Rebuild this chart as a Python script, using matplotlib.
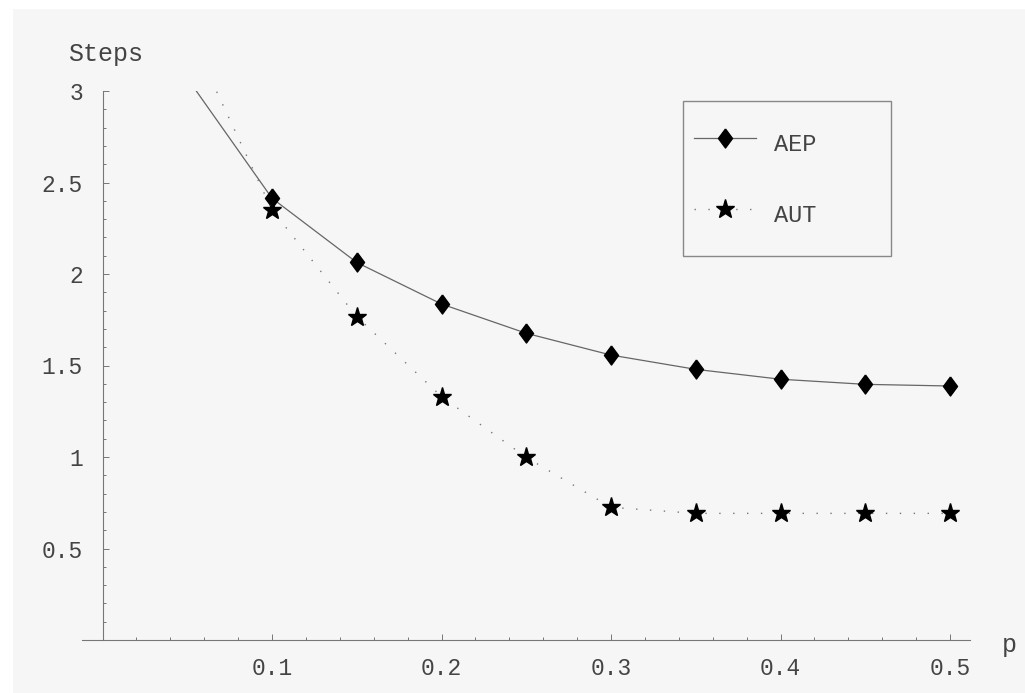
import matplotlib
matplotlib.use("Agg")
import matplotlib.pyplot as plt
from matplotlib.patches import Rectangle
from matplotlib.ticker import MultipleLocator, FixedLocator
import numpy as np

# data
p = [0.05, 0.10, 0.15, 0.20, 0.25, 0.30, 0.35, 0.40, 0.45, 0.50]
aep = [3.07, 2.414, 2.063, 1.836, 1.676, 1.557, 1.479, 1.425, 1.397, 1.388]
aut = [3.34, 2.35, 1.767, 1.330, 0.998, 0.725, 0.692, 0.692, 0.692, 0.692]

x_ticks = [0.1, 0.2, 0.3, 0.4, 0.5]
x_labels = ["0.1", "0.2", "0.3", "0.4", "0.5"]
y_ticks = [0.5, 1, 1.5, 2, 2.5, 3]
y_labels = ["0.5", "1", "1.5", "2", "2.5", "3"]

W, H = 1025, 693
font = "Liberation Mono"
grey = "#777777"
txt = "#444444"

fig = plt.figure(figsize=(W / 100, H / 100), dpi=100, facecolor="white")
fig.patches.append(Rectangle((13 / W, 0), 1 - 13 / W, 1 - 9 / H,
                             transform=fig.transFigure, facecolor="#f6f6f6",
                             edgecolor="none", zorder=-10))

ax = fig.add_axes([82 / W, 1 - 640 / H, (970 - 82) / W, (640 - 91) / H])
ax.set_facecolor("none")

diamond = [(0, 1), (0.74, 0), (0, -1), (-0.74, 0), (0, 1)]
ax.plot(p, aep, color="#666666", lw=0.9, marker=diamond, markersize=13.7,
        markerfacecolor="black", markeredgecolor="black", label="AEP")
ax.plot(p, aut, color=grey, lw=1.0, linestyle=(0, (1, 9)), marker="*",
        markersize=14, markerfacecolor="black", markeredgecolor="black",
        label="AUT")

ax.set_xlim(-0.0121, 0.5118)
ax.set_ylim(0, 3.0)

for s in ["top", "right"]:
    ax.spines[s].set_visible(False)
ax.spines["left"].set_position(("data", 0))
for s in ["left", "bottom"]:
    ax.spines[s].set_color(grey)
    ax.spines[s].set_linewidth(0.8)

ax.xaxis.set_major_locator(FixedLocator(x_ticks))
ax.set_xticklabels(x_labels)
ax.xaxis.set_minor_locator(FixedLocator(np.arange(0.02, 0.51, 0.02)))
ax.yaxis.set_major_locator(FixedLocator(y_ticks))
ax.set_yticklabels(y_labels)
ax.yaxis.set_minor_locator(MultipleLocator(0.1))

ax.tick_params(which="both", direction="in", color=grey, width=0.7,
               labelcolor=txt)
ax.tick_params(which="major", length=4.2)
ax.tick_params(which="minor", length=2.4)
ax.tick_params(axis="x", which="major", pad=12)
ax.tick_params(axis="y", which="major", pad=14)
for lab in ax.get_xticklabels() + ax.get_yticklabels():
    lab.set_fontfamily(font)
    lab.set_fontsize(16.5)

fig.text(68 / W, 1 - 61 / H, "Steps", fontfamily=font, fontsize=18,
         color=txt, va="baseline", ha="left")
fig.text(1002 / W, 1 - 652 / H, "p", fontfamily=font, fontsize=18,
         color=txt, va="baseline", ha="left")

# legend: entries via matplotlib, frame drawn as a box
fs = 17
em = fs * 100 / 72
leg = ax.legend(loc="upper left", bbox_to_anchor=(694 / W, 1 - (149 - em) / H),
                bbox_transform=fig.transFigure, frameon=False, borderpad=0,
                borderaxespad=0, handlelength=62 / em, handleheight=2.0,
                labelspacing=1.47, handletextpad=18 / em,
                numpoints=1, prop={"family": font, "size": fs})
for t in leg.get_texts():
    t.set_color(txt)
fig.patches.append(Rectangle((683 / W, 1 - 256 / H), 208 / W, 155 / H,
                             transform=fig.transFigure, facecolor="none",
                             edgecolor="#888888", lw=1.0))

fig.savefig("out.png", dpi=100, facecolor=fig.get_facecolor())
